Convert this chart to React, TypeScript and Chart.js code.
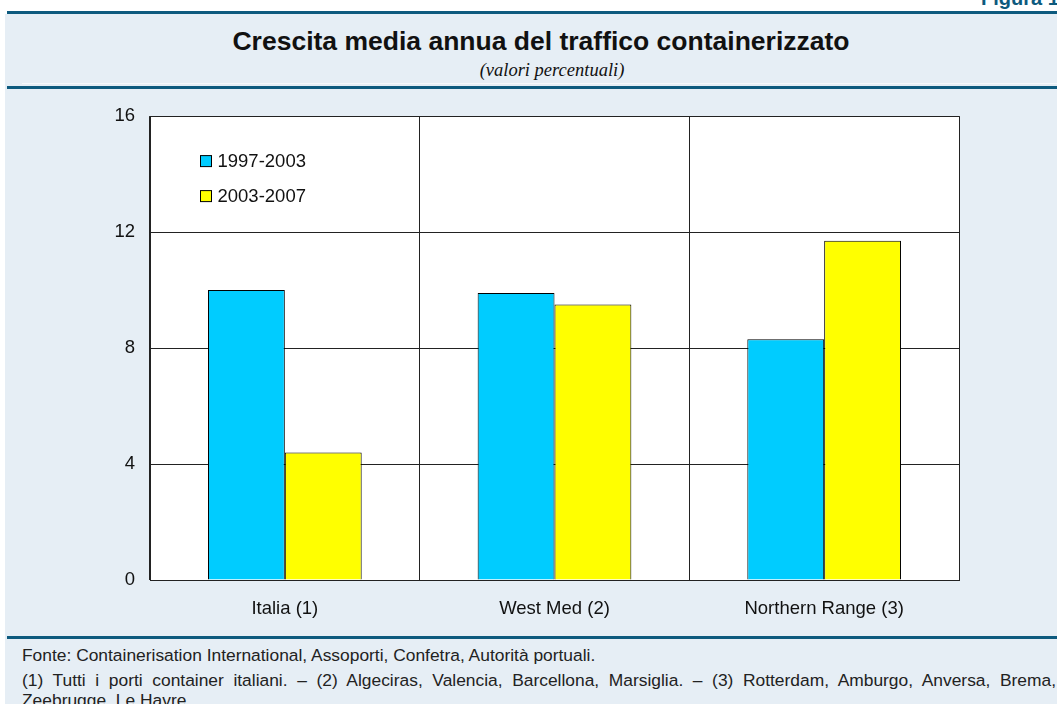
import React, { useEffect, useRef } from 'react';
import { Chart, registerables } from 'chart.js';

Chart.register(...registerables);

const categories = ['Italia (1)', 'West Med (2)', 'Northern Range (3)'];
const seriesLabels = ['1997-2003', '2003-2007'];
const values1997_2003 = [10.0, 9.9, 8.3];
const values2003_2007 = [4.4, 9.5, 11.7];
const seriesColors = ['#00ccff', '#ffff00'];
const yMin = 0;
const yMax = 16;
const yStep = 4;

const SANS = '"Liberation Sans", Arial, Helvetica, sans-serif';
const SERIF = '"Liberation Serif", "Times New Roman", serif';
const DARK_BLUE = '#0d5a7e';
const PANEL_BG = '#e6eef5';

const plotBackground = {
  id: 'plotBackground',
  beforeDraw(chart: any) {
    const { ctx, chartArea } = chart;
    ctx.save();
    ctx.fillStyle = '#ffffff';
    ctx.fillRect(chartArea.left, chartArea.top, chartArea.right - chartArea.left, chartArea.bottom - chartArea.top);
    ctx.restore();
  },
};

const innerLegend = {
  id: 'innerLegend',
  afterDraw(chart: any) {
    const { ctx, chartArea } = chart;
    ctx.save();
    ctx.font = `18.5px ${SANS}`;
    ctx.textBaseline = 'middle';
    ctx.textAlign = 'left';
    chart.data.datasets.forEach((ds: any, i: number) => {
      const x = chartArea.left + 50;
      const y = chartArea.top + 39 + i * 35;
      ctx.fillStyle = ds.backgroundColor;
      ctx.fillRect(x + 0.5, y + 0.5, 11, 11);
      ctx.strokeStyle = '#000';
      ctx.lineWidth = 1;
      ctx.strokeRect(x + 0.5, y + 0.5, 11, 11);
      ctx.fillStyle = '#111';
      ctx.fillText(ds.label, x + 17.5, y + 6.5);
    });
    ctx.restore();
  },
};

function BarChart() {
  const ref = useRef<HTMLCanvasElement | null>(null);
  useEffect(() => {
    if (!ref.current) return;
    const chart = new Chart(ref.current, {
      type: 'bar',
      data: {
        labels: categories,
        datasets: [
          {
            label: seriesLabels[0],
            data: values1997_2003,
            backgroundColor: seriesColors[0],
            borderColor: '#000',
            borderWidth: 1,
            categoryPercentage: 0.57,
            barPercentage: 1.0,
          },
          {
            label: seriesLabels[1],
            data: values2003_2007,
            backgroundColor: seriesColors[1],
            borderColor: '#000',
            borderWidth: 1,
            categoryPercentage: 0.57,
            barPercentage: 1.0,
          },
        ],
      },
      options: {
        responsive: false,
        animation: false,
        devicePixelRatio: 1,
        layout: { padding: { left: 0, right: 98, top: 26, bottom: 0 } },
        plugins: {
          legend: { display: false },
          tooltip: { enabled: false },
          title: { display: false },
        },
        scales: {
          x: {
            offset: true,
            grid: { offset: true, color: '#222', lineWidth: 1, drawTicks: false },
            border: { color: '#222', width: 1 },
            ticks: { color: '#111', font: { family: SANS, size: 18.5 }, padding: 18 },
            afterFit: (scale: any) => {
              scale.height = 55;
            },
          },
          y: {
            min: yMin,
            max: yMax,
            grid: { color: '#222', lineWidth: 1, drawTicks: false },
            border: { color: '#222', width: 1 },
            ticks: { stepSize: yStep, color: '#111', font: { family: SANS, size: 18.5 }, padding: 15 },
            afterFit: (scale: any) => {
              scale.width = 150;
            },
          },
        },
      },
      plugins: [plotBackground, innerLegend],
    });
    return () => chart.destroy();
  }, []);
  return <canvas ref={ref} width={1057} height={545} style={{ display: 'block', width: 1057, height: 545 }} />;
}

export default function App() {
  return (
    <div
      style={{
        position: 'fixed',
        left: 0,
        top: 0,
        width: 1057,
        height: 704,
        overflow: 'hidden',
        background: '#ffffff',
        fontFamily: SANS,
      }}
    >
      <div
        style={{
          position: 'absolute',
          left: 981,
          top: -12,
          fontSize: 20,
          lineHeight: '20px',
          fontWeight: 'bold',
          color: DARK_BLUE,
          whiteSpace: 'nowrap',
        }}
      >
        Figura 1
      </div>
      <div style={{ position: 'absolute', left: 5, top: 14, right: 0, bottom: 0, background: PANEL_BG }} />
      <div style={{ position: 'absolute', left: 7, top: 11, right: 0, height: 3, background: DARK_BLUE }} />
      <div style={{ position: 'absolute', left: 22, top: 83, right: 0, height: 1, background: '#f6f9fc' }} />
      <div style={{ position: 'absolute', left: 7, top: 86, right: 0, height: 3, background: DARK_BLUE }} />
      <div style={{ position: 'absolute', left: 7, top: 636, right: 0, height: 3, background: DARK_BLUE }} />

      <div
        style={{
          position: 'absolute',
          left: 41,
          width: 1000,
          top: 28,
          textAlign: 'center',
          fontSize: 26.5,
          lineHeight: '26.5px',
          fontWeight: 'bold',
          color: '#111',
          whiteSpace: 'nowrap',
        }}
      >
        Crescita media annua del traffico containerizzato
      </div>
      <div
        style={{
          position: 'absolute',
          left: 52,
          width: 1000,
          top: 60.5,
          textAlign: 'center',
          fontSize: 18.5,
          lineHeight: '18.5px',
          fontStyle: 'italic',
          fontFamily: SERIF,
          color: '#111',
          whiteSpace: 'nowrap',
        }}
      >
        (valori percentuali)
      </div>

      <div style={{ position: 'absolute', left: 0, top: 90 }}>
        <BarChart />
      </div>

      <div
        style={{
          position: 'absolute',
          left: 22,
          top: 646,
          fontSize: 17.4,
          lineHeight: '19px',
          color: '#222',
          whiteSpace: 'nowrap',
        }}
      >
        Fonte: Containerisation International, Assoporti, Confetra, Autorità portuali.
      </div>
      <div
        style={{
          position: 'absolute',
          left: 22,
          top: 670.5,
          width: 1034,
          fontSize: 17.4,
          lineHeight: '19px',
          color: '#222',
          whiteSpace: 'nowrap',
          textAlign: 'justify',
          textAlignLast: 'justify',
        }}
      >
        (1) Tutti i porti container italiani. – (2) Algeciras, Valencia, Barcellona, Marsiglia. – (3) Rotterdam, Amburgo, Anversa, Brema,
      </div>
      <div
        style={{
          position: 'absolute',
          left: 22,
          top: 690.5,
          fontSize: 17.4,
          lineHeight: '19px',
          color: '#222',
          whiteSpace: 'nowrap',
        }}
      >
        Zeebrugge, Le Havre.
      </div>
    </div>
  );
}
